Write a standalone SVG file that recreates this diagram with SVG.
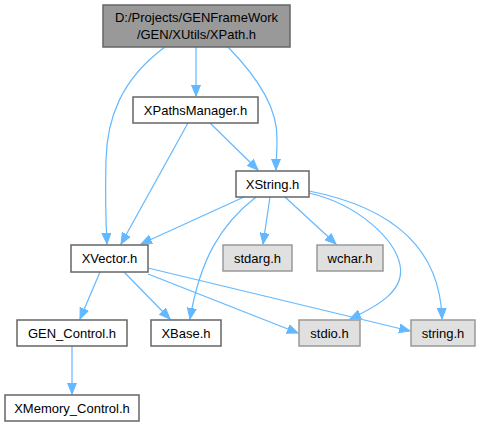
<svg xmlns="http://www.w3.org/2000/svg" width="481" height="427" viewBox="0 0 481 427">
<style>
text{font-family:"Liberation Sans",Arial,sans-serif;font-size:13px;fill:#000;text-anchor:middle}
.n rect{fill:#fff;stroke:#666;stroke-width:1.5}
.s rect{fill:#e0e0e0;stroke:#999;stroke-width:1.5}
.t rect{fill:#999;stroke:#666;stroke-width:1.5}
#edges path{fill:none;stroke:#63b8ff;stroke-width:1.2;marker-end:url(#ah)}
</style>
<defs>
<marker id="ah" markerUnits="userSpaceOnUse" markerWidth="12" markerHeight="10" viewBox="0 0 12 10" refX="11" refY="5" orient="auto">
<path d="M0,0.5 L11,5 L0,9.5 Z" fill="#63b8ff" stroke="#63b8ff"/>
</marker>
</defs>
<rect width="481" height="427" fill="#fff"/>
<g id="edges">
<path d="M196,47 V96"/>
<path d="M165,47 C120,80 107,120 106,160 C105,200 106,225 107,244"/>
<path d="M228,47 C260,80 278,110 277,140 C277,155 276,162 276,170"/>
<path d="M188,123 L121,244"/>
<path d="M210,123 L258,170"/>
<path d="M244,197 L141,244"/>
<path d="M270,197 L263,244"/>
<path d="M285,197 L336,244"/>
<path d="M309,193 C360,205 395,240 400,265 C405,290 380,305 350,319"/>
<path d="M309,191 C380,205 440,240 442,319"/>
<path d="M256,197 C220,225 200,260 190,319"/>
<path d="M100,272 L80,319"/>
<path d="M124,272 L170,319"/>
<path d="M148,274 L298,333"/>
<path d="M148,268 L410,331"/>
<path d="M72,346 V394"/>
</g>
<g id="n_top" class="t"><rect x="103" y="5" width="187" height="42"/><text x="196.5" y="22">D:/Projects/GENFrameWork</text><text x="196.5" y="39">/GEN/XUtils/XPath.h</text></g>
<g id="n_xpm" class="n"><rect x="133" y="97" width="125" height="26"/><text x="195.5" y="114.5">XPathsManager.h</text></g>
<g id="n_xstring" class="n"><rect x="236" y="171" width="73" height="26"/><text x="272.5" y="188.5">XString.h</text></g>
<g id="n_xvector" class="n"><rect x="71" y="245" width="77" height="27"/><text x="109.5" y="263">XVector.h</text></g>
<g id="n_stdarg" class="s"><rect x="223" y="245" width="69" height="26"/><text x="257.5" y="262.5">stdarg.h</text></g>
<g id="n_wchar" class="s"><rect x="317" y="245" width="66" height="26"/><text x="350" y="262.5">wchar.h</text></g>
<g id="n_gen" class="n"><rect x="17" y="320" width="110" height="26"/><text x="72" y="337.5">GEN_Control.h</text></g>
<g id="n_xbase" class="n"><rect x="151" y="320" width="70" height="26"/><text x="186" y="337.5">XBase.h</text></g>
<g id="n_stdio" class="s"><rect x="299" y="320" width="61" height="26"/><text x="329.5" y="337.5">stdio.h</text></g>
<g id="n_string" class="s"><rect x="411" y="320" width="64" height="26"/><text x="443" y="337.5">string.h</text></g>
<g id="n_xmem" class="n"><rect x="5" y="395" width="134" height="26"/><text x="72" y="412.5">XMemory_Control.h</text></g>
</svg>
